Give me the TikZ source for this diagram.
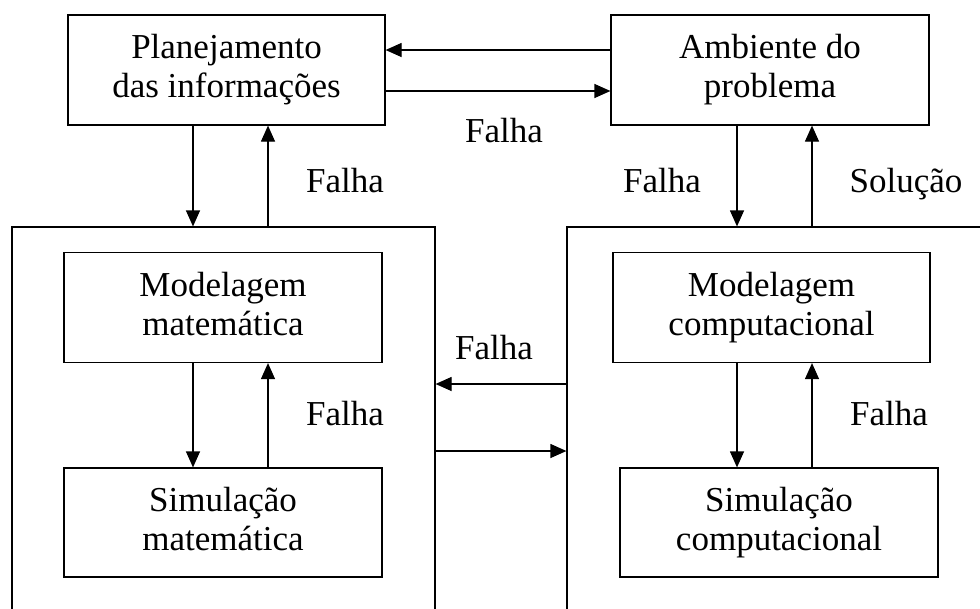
\documentclass[tikz,border=0pt]{standalone}
\usepackage{fontspec}
\setmainfont{Liberation Serif}
\usetikzlibrary{arrows.meta}
\newcommand{\lastdp}{\rule[-8pt]{0pt}{8pt}}
\begin{document}
\begin{tikzpicture}[x=1pt,y=-1pt,
  txt/.style={font=\fontsize{35}{39}\selectfont},
  box/.style={txt,draw,line width=1.2pt,rectangle,align=center,inner sep=0pt},
  outer/.style={draw,line width=1.2pt,rectangle,inner sep=0pt},
  lbl/.style={txt,inner sep=0pt,anchor=base},
  arr/.style={line width=1.2pt,-{Triangle[length=16pt,width=14pt]}}]
\useasboundingbox (0,0) rectangle (980,608);
\clip (0,0) rectangle (980,608);
\fill[white] (0,0) rectangle (980,608);

% top boxes
\node[box,minimum width=317pt,minimum height=110pt] (plan) at (226.5,70) {Planejamento\\das informações\lastdp};
\node[box,minimum width=318pt,minimum height=110pt] (amb) at (770,70) {Ambiente do\\problema\lastdp};

% outer boxes (cut off by the picture edge)
\node[outer,minimum width=423pt,minimum height=423pt] (outL) at (223.5,438.5) {};
\node[outer,minimum width=433pt,minimum height=423pt] (outR) at (783.5,438.5) {};

% inner boxes
\node[box,minimum width=318pt,minimum height=110pt] (modm) at (223,307.5) {Modelagem\\matemática\lastdp};
\node[box,minimum width=318pt,minimum height=109pt] (simm) at (223,522.5) {Simulação\\matemática\lastdp};
\node[box,minimum width=317pt,minimum height=110pt] (modc) at (771.5,307.5) {Modelagem\\computacional\lastdp};
\node[box,minimum width=318pt,minimum height=109pt] (simc) at (779,522.5) {Simulação\\computacional\lastdp};

% helper coordinates
\coordinate (xl1) at (193,0);
\coordinate (xl2) at (268,0);
\coordinate (xr1) at (737,0);
\coordinate (xr2) at (812,0);
\coordinate (yt1) at (0,50);
\coordinate (yt2) at (0,91);
\coordinate (ym1) at (0,384);
\coordinate (ym2) at (0,451);

% top horizontal arrows
\draw[arr] (amb.west |- yt1) -- (plan.east |- yt1);
\draw[arr] (plan.east |- yt2) -- (amb.west |- yt2);

% plan <-> outer left
\draw[arr] (plan.south -| xl1) -- (outL.north -| xl1);
\draw[arr] (outL.north -| xl2) -- (plan.south -| xl2);

% amb <-> outer right
\draw[arr] (amb.south -| xr1) -- (outR.north -| xr1);
\draw[arr] (outR.north -| xr2) -- (amb.south -| xr2);

% inner left
\draw[arr] (modm.south -| xl1) -- (simm.north -| xl1);
\draw[arr] (simm.north -| xl2) -- (modm.south -| xl2);

% inner right
\draw[arr] (modc.south -| xr1) -- (simc.north -| xr1);
\draw[arr] (simc.north -| xr2) -- (modc.south -| xr2);

% middle arrows between outer boxes
\draw[arr] (outR.west |- ym1) -- (outL.east |- ym1);
\draw[arr] (outL.east |- ym2) -- (outR.west |- ym2);

% labels
\node[lbl] (l1) at (345,192) {Falha};
\node[lbl] (l2) at (504,142) {Falha};
\node[lbl] (l3) at (662,192) {Falha};
\node[lbl] (l4) at (906,192) {Solução};
\node[lbl] (l5) at (494,359) {Falha};
\node[lbl] (l6) at (345,425) {Falha};
\node[lbl] (l7) at (889,425) {Falha};
\end{tikzpicture}
\end{document}
